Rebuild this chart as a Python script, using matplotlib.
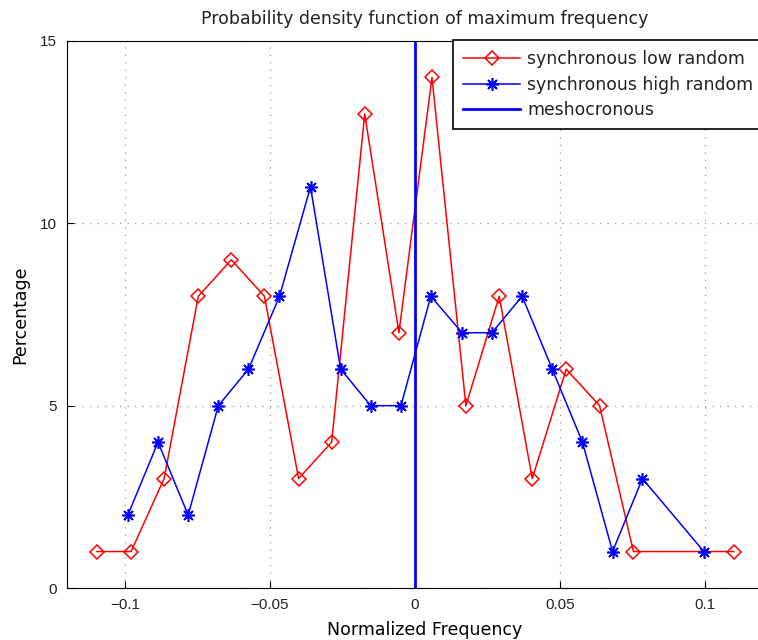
import matplotlib.pyplot as plt

# synchronous low random
low_x = [-0.1097, -0.0979, -0.0865, -0.0747, -0.0633, -0.0519, -0.0401, -0.0287, -0.0173,
         -0.0055, 0.0059, 0.0176, 0.0291, 0.0405, 0.0522, 0.0637, 0.0754, 0.1100]
low_y = [1, 1, 3, 8, 9, 8, 3, 4, 13, 7, 14, 5, 8, 3, 6, 5, 1, 1]

# synchronous high random
high_x = [-0.0990, -0.0886, -0.0782, -0.0678, -0.0574, -0.0467, -0.0360, -0.0256, -0.0152,
          -0.0048, 0.0055, 0.0163, 0.0266, 0.0370, 0.0474, 0.0578, 0.0682, 0.0785, 0.0997]
high_y = [2, 4, 2, 5, 6, 8, 11, 6, 5, 5, 8, 7, 7, 8, 6, 4, 1, 3, 1]

meso_x = 0.0

plt.rcParams['font.family'] = ['DejaVu Sans']
plt.rcParams['text.color'] = '#222222'
big = 12.5

fig = plt.figure(figsize=(7.58, 6.4), dpi=100)
# axes run past the right edge of the picture, like the cropped original
x_left, x_right = -0.12, 0.127
ax = fig.add_axes([67 / 758, 52 / 640, (416 + x_right * 2890 - 67) / 758, (588 - 41) / 640])

ax.plot(low_x, low_y, color='#ff0000', lw=1.1, marker='D', ms=7, mfc='none', mew=1.1,
        label='synchronous low random')
ax.plot(high_x, high_y, color='#0000ff', lw=1.1, marker=(8, 2, 0), ms=9, mew=1.2,
        label='synchronous high random')
ax.axvline(meso_x, color='#0000ff', lw=2, label='meshocronous')

ax.set_xlim(x_left, x_right)
ax.set_ylim(0, 15)
ax.set_xticks([-0.1, -0.05, 0, 0.05, 0.1])
ax.set_xticklabels(['\u22120.1', '\u22120.05', '0', '0.05', '0.1'], family='Liberation Sans')
ax.set_yticks([0, 5, 10, 15])
ax.set_yticklabels(['0', '5', '10', '15'], family='Liberation Sans')
ax.grid(True, color='#999999', linestyle=(0, (1, 5)), lw=0.9)
ax.tick_params(direction='in', labelsize=11, length=5, pad=7, labelcolor='#222222')
ax.set_axisbelow(True)

ax.set_title('Probability density function of maximum frequency', fontsize=big, pad=12)
ax.set_xlabel('Normalized Frequency', fontsize=big, labelpad=7)
ax.set_ylabel('Percentage', fontsize=big, labelpad=8)

leg = ax.legend(loc='upper left', bbox_to_anchor=(453 / 758, 1 - 40 / 640),
                bbox_transform=fig.transFigure, fontsize=12.4, fancybox=False,
                framealpha=1, edgecolor='black', borderaxespad=0, handlelength=3.3,
                handletextpad=0.4, labelspacing=0.42, borderpad=0.6)
leg.get_frame().set_linewidth(1.2)

plt.savefig('out.png')
